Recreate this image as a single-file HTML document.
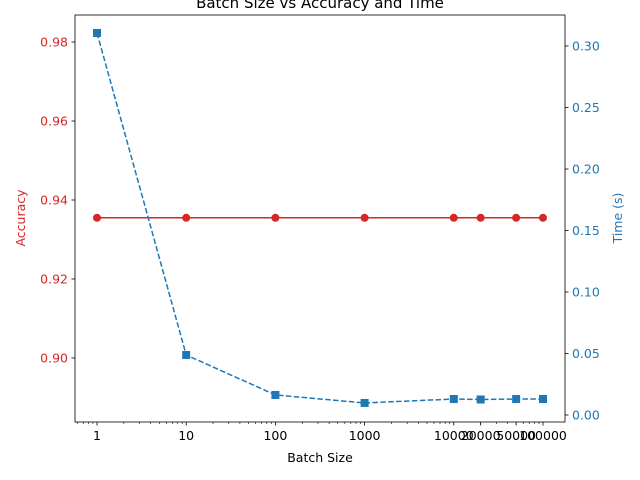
<!DOCTYPE html>
<html><head><meta charset="utf-8"><style>
body{margin:0;background:#fff;}
svg{display:block;font-family:"DejaVu Sans","Liberation Sans",sans-serif;}
</style></head><body>
<svg id="chart" width="640" height="480" xmlns="http://www.w3.org/2000/svg"></svg>
<script>
const batchSizes = [1, 10, 100, 1000, 10000, 20000, 50000, 100000];
const accuracy = [0.9355, 0.9355, 0.9355, 0.9355, 0.9355, 0.9355, 0.9355, 0.9355];
const timeSec = [0.3106, 0.0488, 0.0163, 0.0098, 0.013, 0.0126, 0.013, 0.013];
const xTickLabels = ["1", "10", "100", "1000", "10000", "20000", "50000", "100000"];
const accTicks = [0.90, 0.92, 0.94, 0.96, 0.98];
const timeTicks = [0.00, 0.05, 0.10, 0.15, 0.20, 0.25, 0.30];

const NS = "http://www.w3.org/2000/svg";
const svg = document.getElementById("chart");
const L = 75, R = 565, T = 15, B = 422;
const RED = "#d62728", BLUE = "#1f77b4";
const FS = "12.5";
function xs(v){ return 97 + Math.log10(v) * 89.2; }
function ya(v){ return 358 - (v - 0.90) / 0.02 * 79; }
function yt(v){ return 415 - v / 0.05 * 61.5; }
function mk(tag, attrs, parent){
  const e = document.createElementNS(NS, tag);
  for (const k in attrs) e.setAttribute(k, attrs[k]);
  (parent || svg).appendChild(e);
  return e;
}
function txt(s, attrs){ const e = mk("text", attrs); e.textContent = s; return e; }

const title = txt("Batch Size vs Accuracy and Time", {x:320, y:8, "text-anchor":"middle", "font-size":"15"});



for (let d = 0; d <= 5; d++) {
  for (let m = 2; m <= 9; m++) {
    const v = Math.pow(10, d) * m;
    if (v > 100000) continue;
    const x = xs(v);
    mk("line", {x1:x, x2:x, y1:B, y2:B+2, stroke:"#000", "stroke-width":0.6});
  }
}
for (let m = 5; m <= 9; m++) {
  const x = xs(m / 10);
  if (x > L) mk("line", {x1:x, x2:x, y1:B, y2:B+2, stroke:"#000", "stroke-width":0.6});
}
batchSizes.forEach((v, i) => {
  const x = xs(v);
  mk("line", {x1:x, x2:x, y1:B, y2:B+3.5, stroke:"#000", "stroke-width":0.8});
  const t = txt(xTickLabels[i], {x:x, y:B+18, "text-anchor":"middle", "font-size":FS});
  
  
});
const xl = txt("Batch Size", {x:320, y:462, "text-anchor":"middle", "font-size":FS});



accTicks.forEach(v => {
  const y = ya(v);
  mk("line", {x1:L-3.5, x2:L, y1:y, y2:y, stroke:"#000", "stroke-width":0.8});
  const t = txt(v.toFixed(2), {x:L-7, y:y+4.5, "text-anchor":"end", "font-size":FS, fill:RED});
  
  
});
const yl = txt("Accuracy", {x:0, y:0, "text-anchor":"middle", "font-size":FS, fill:RED, transform:"translate(25,218) rotate(-90)"});



timeTicks.forEach(v => {
  const y = yt(v);
  mk("line", {x1:R, x2:R+3.5, y1:y, y2:y, stroke:"#000", "stroke-width":0.8});
  const t = txt(v.toFixed(2), {x:R+7, y:y+4.5, "font-size":FS, fill:BLUE});
  
  
});
const yr = txt("Time (s)", {x:0, y:0, "text-anchor":"middle", "font-size":FS, fill:BLUE, transform:"translate(622,218) rotate(-90)"});



const accLine = mk("polyline", {points: batchSizes.map((v,i)=>xs(v)+","+ya(accuracy[i])).join(" "), fill:"none", stroke:RED, "stroke-width":1.5});


batchSizes.forEach((v,i) => {
  const c = mk("circle", {cx:xs(v), cy:ya(accuracy[i]), r:4, fill:RED});
  
  
});

const tLine = mk("polyline", {points: batchSizes.map((v,i)=>xs(v)+","+yt(timeSec[i])).join(" "), fill:"none", stroke:BLUE, "stroke-width":1.5, "stroke-dasharray":"5.5,2.4"});


batchSizes.forEach((v,i) => {
  const s = mk("rect", {x:xs(v)-4, y:yt(timeSec[i])-4, width:8, height:8, fill:BLUE});
  
  
});

const frame = mk("rect", {x:L, y:T, width:R-L, height:B-T, fill:"none", stroke:"#000", "stroke-width":0.8});


</script>
</body></html>
